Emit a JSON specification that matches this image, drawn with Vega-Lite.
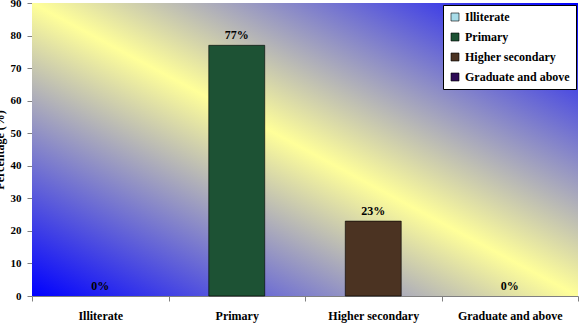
{
  "$schema": "https://vega.github.io/schema/vega-lite/v6.json",
  "autosize": {"type": "none"},
  "width": 546,
  "height": 293,
  "padding": {"left": 32, "top": 3, "right": 7, "bottom": 38},
  "background": "white",
  "config": {
    "view": {"stroke": null},
    "font": "Liberation Serif",
    "axis": {"labelFont": "Liberation Serif", "titleFont": "Liberation Serif", "labelFontWeight": "bold", "titleFontWeight": "bold", "labelColor": "black", "titleColor": "black", "domainColor": "#808080", "tickColor": "#808080", "grid": false},
    "legend": {"labelFont": "Liberation Serif", "labelFontWeight": "bold", "labelColor": "black"}
  },
  "datasets": {
    "education": [
      {"level": "Illiterate", "percent": 0, "label": "0%"},
      {"level": "Primary", "percent": 77, "label": "77%"},
      {"level": "Higher secondary", "percent": 23, "label": "23%"},
      {"level": "Graduate and above", "percent": 0, "label": "0%"}
    ]
  },
  "layer": [
    {
      "data": {"values": [{}]},
      "mark": {
        "type": "rect",
        "fill": {
          "gradient": "linear",
          "x1": 0, "y1": 1, "x2": 1, "y2": 0,
          "stops": [
            {"offset": 0, "color": "#0000ff"},
            {"offset": 0.5, "color": "#ffff99"},
            {"offset": 1, "color": "#0000ff"}
          ]
        }
      },
      "encoding": {}
    },
    {
      "data": {"name": "education"},
      "encoding": {
        "x": {
          "field": "level", "type": "nominal",
          "sort": ["Illiterate", "Primary", "Higher secondary", "Graduate and above"],
          "scale": {"domain": ["Illiterate", "Primary", "Higher secondary", "Graduate and above"], "paddingInner": 0, "paddingOuter": 0},
          "axis": {"title": null, "labelAngle": 0, "labelFontSize": 12, "labelPadding": 9, "tickBand": "extent", "tickSize": 5}
        },
        "y": {
          "field": "percent", "type": "quantitative",
          "scale": {"domain": [0, 90], "nice": false},
          "axis": {"title": "Percentage (%)", "values": [0, 10, 20, 30, 40, 50, 60, 70, 80, 90], "labelOverlap": false, "labelFontSize": 11, "labelPadding": 6, "tickSize": 5, "titleFontSize": 12, "titleX": -29, "titleBaseline": "alphabetic"}
        }
      },
      "layer": [
        {
          "transform": [{"filter": "datum.percent > 0"}],
          "mark": {"type": "bar", "width": {"band": 0.41}, "stroke": "black", "strokeWidth": 0.6},
          "encoding": {
            "color": {
              "field": "level", "type": "nominal",
              "scale": {"domain": ["Illiterate", "Primary", "Higher secondary", "Graduate and above"], "range": ["#a8dce8", "#1d5234", "#4b3322", "#2d0b55"]},
              "legend": {
                "title": null, "orient": "none", "legendX": 411, "legendY": 2,
                "fillColor": "white", "strokeColor": "black", "padding": 6,
                "symbolType": "square", "symbolSize": 64, "symbolStrokeColor": "black", "symbolStrokeWidth": 0.6,
                "labelFontSize": 12, "labelOffset": 4, "rowPadding": 8
              }
            }
          }
        },
        {
          "mark": {"type": "text", "baseline": "alphabetic", "dy": -6, "fontWeight": "bold", "fontSize": 12, "font": "Liberation Serif", "color": "black"},
          "encoding": {
            "text": {"field": "label"}
          }
        }
      ]
    }
  ]
}
